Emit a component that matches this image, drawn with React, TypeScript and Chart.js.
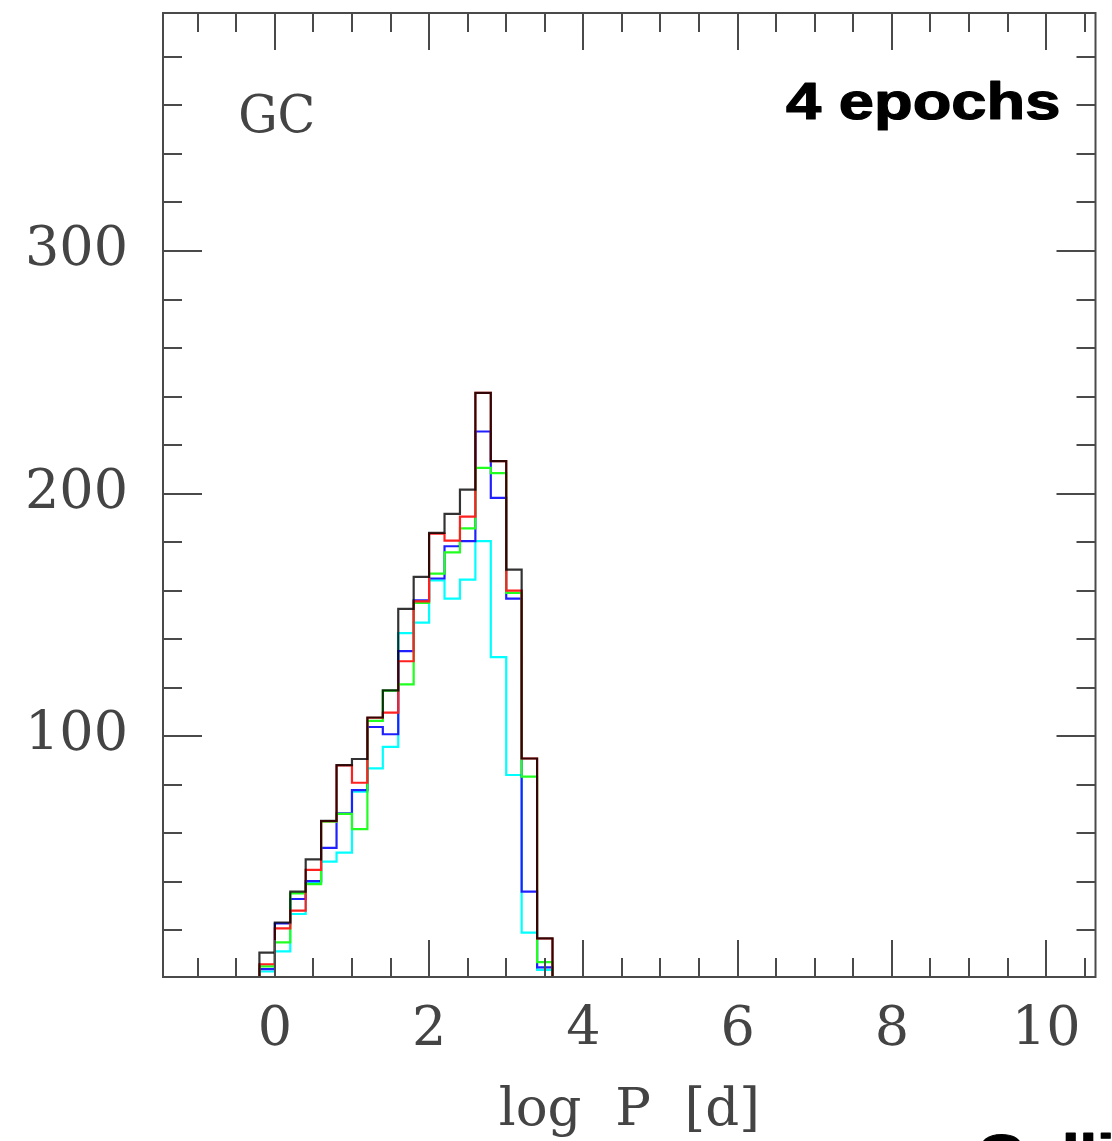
import React, { useEffect, useRef } from 'react';
import { Chart, registerables } from 'chart.js';

Chart.register(...registerables);

// Histogram bin edges in log P [d] (bin width 0.2)
const binEdges = [-0.2, 0, 0.2, 0.4, 0.6, 0.8, 1.0, 1.2, 1.4, 1.6, 1.8, 2.0, 2.2, 2.4, 2.6, 2.8, 3.0, 3.2, 3.4, 3.6];

// Counts per bin for each series
const blackCounts = [10.8, 23.2, 35.9, 49.2, 65.1, 88.1, 90.6, 107.7, 118.9, 152.5, 165.7, 183.8, 191.6, 201.6, 241.5, 213.4, 168.7, 90.8, 16.7];
const redCounts = [6.0, 20.8, 28.1, 44.9, 65.0, 88.0, 80.8, 107.6, 109.7, 130.9, 155.6, 183.5, 180.6, 190.5, 241.5, 213.4, 160.0, 90.8, 16.6];
const greenCounts = [5.1, 15.0, 35.2, 39.0, 64.8, 68.0, 61.7, 106.3, 118.8, 121.4, 154.9, 167.0, 175.8, 185.7, 210.6, 208.4, 159.1, 83.3, 6.9];
const blueCounts = [4.0, 22.8, 32.9, 40.3, 54.0, 68.2, 77.8, 103.8, 100.8, 135.1, 156.0, 165.0, 178.3, 180.4, 225.6, 198.2, 156.7, 35.9, 4.7];
const cyanCounts = [3.0, 11.3, 26.7, 39.5, 48.3, 52.0, 77.1, 86.7, 95.6, 142.5, 146.8, 164.2, 156.7, 164.5, 180.4, 132.6, 84.0, 19.0, 3.7];

// Axis ticks
const xTickLabels = [0, 2, 4, 6, 8, 10];
const xMinorTicks = [-1, -0.5, 0.5, 1, 1.5, 2.5, 3, 3.5, 4.5, 5, 5.5, 6.5, 7, 7.5, 8.5, 9, 9.5, 10.5];
const yTickLabels = [100, 200, 300];
const yMinorTicks = [20, 40, 60, 80, 120, 140, 160, 180, 220, 240, 260, 280, 320, 340, 360, 380];

const xRange = { min: -1.45, max: 10.64 };
const yRange = { min: 0.74, max: 398.1 };

const panelLabel = 'GC';
const epochLabel = '4 epochs';
const bottomLabel = 'Collisions';
const xTitle = 'log  P  [d]';

function toSteps(counts: number[]) {
  const pts = [{ x: binEdges[0], y: 0 }];
  counts.forEach((v, i) => pts.push({ x: binEdges[i], y: v }));
  pts.push({ x: binEdges[binEdges.length - 1], y: 0 });
  return pts;
}

function inkScale(ctx: CanvasRenderingContext2D, text: string, font: string, inkWidth: number) {
  ctx.save();
  ctx.font = font;
  const m = ctx.measureText(text);
  ctx.restore();
  return inkWidth / (m.actualBoundingBoxLeft + m.actualBoundingBoxRight);
}

function drawText(ctx: CanvasRenderingContext2D, text: string, font: string, color: string, inkLeft: number, baseline: number, sx: number, stroke = 0) {
  ctx.save();
  ctx.font = font;
  ctx.fillStyle = color;
  ctx.strokeStyle = color;
  ctx.textAlign = 'left';
  ctx.textBaseline = 'alphabetic';
  const m = ctx.measureText(text);
  ctx.translate(inkLeft, baseline);
  ctx.scale(sx, 1);
  ctx.fillText(text, m.actualBoundingBoxLeft, 0);
  if (stroke > 0) {
    ctx.lineWidth = stroke;
    ctx.lineJoin = 'round';
    ctx.strokeText(text, m.actualBoundingBoxLeft, 0);
  }
  ctx.restore();
}

const framePlugin = {
  id: 'framePlugin',
  afterDatasetsDraw(chart: any) {
    const { ctx, chartArea } = chart;
    const xs = chart.scales.x;
    const ys = chart.scales.y;
    const { left, right, top, bottom } = chartArea;
    ctx.save();
    ctx.strokeStyle = '#4a4a4a';
    ctx.lineWidth = 2;
    ctx.lineCap = 'butt';
    ctx.strokeRect(left, top, right - left, bottom - top);
    ctx.beginPath();
    const xTick = (v: number, len: number) => {
      const p = Math.round(xs.getPixelForValue(v));
      ctx.moveTo(p, bottom);
      ctx.lineTo(p, bottom - len);
      ctx.moveTo(p, top);
      ctx.lineTo(p, top + len);
    };
    const yTick = (v: number, len: number) => {
      const p = Math.round(ys.getPixelForValue(v));
      ctx.moveTo(left, p);
      ctx.lineTo(left + len, p);
      ctx.moveTo(right, p);
      ctx.lineTo(right - len, p);
    };
    xTickLabels.forEach((v) => xTick(v, 37));
    xMinorTicks.forEach((v) => xTick(v, 19));
    yTickLabels.forEach((v) => yTick(v, 39));
    yMinorTicks.forEach((v) => yTick(v, 19));
    ctx.stroke();
    ctx.restore();

    const epochFont = 'bold 52px "Liberation Sans"';
    const sx = inkScale(ctx, epochLabel, epochFont, 272);
    drawText(ctx, epochLabel, epochFont, '#000', 786, 119, sx, 1.2);
    drawText(ctx, bottomLabel, epochFont, '#000', 980, 1171, sx, 1.2);
    const gcFont = '53px "DejaVu Serif"';
    drawText(ctx, panelLabel, gcFont, '#444', 240, 132, inkScale(ctx, panelLabel, gcFont, 73));
  },
};

export default function App() {
  const ref = useRef<HTMLCanvasElement>(null);
  useEffect(() => {
    document.body.style.margin = '0';
    document.body.style.overflow = 'hidden';
    const canvas = ref.current!;
    const mk = (label: string, counts: number[], color: string) => ({
      label,
      data: toSteps(counts),
      borderColor: color,
      borderWidth: 2.2,
      pointRadius: 0,
      fill: false,
      stepped: 'before' as const,
      tension: 0,
    });
    const tickFont = { family: '"DejaVu Serif"', size: 54, lineHeight: 1 };
    const chart = new Chart(canvas, {
      type: 'line',
      data: {
        datasets: [
          mk('black', blackCounts, 'rgba(0,0,0,0.8)'),
          mk('red', redCounts, '#ff2020'),
          mk('green', greenCounts, '#20ff20'),
          mk('blue', blueCounts, '#2020ff'),
          mk('cyan', cyanCounts, '#00ffff'),
        ],
      },
      options: {
        responsive: false,
        animation: false,
        devicePixelRatio: 1,
        layout: { padding: { left: 0, top: 13, right: 16.5, bottom: 0 } },
        plugins: { legend: { display: false }, tooltip: { enabled: false } },
        scales: {
          x: {
            type: 'linear',
            position: 'bottom',
            min: xRange.min,
            max: xRange.max,
            grid: { display: false, drawTicks: false },
            border: { display: false },
            ticks: { font: tickFont, color: '#444', padding: 27, maxRotation: 0 },
            title: { display: true, text: xTitle, font: { family: '"DejaVu Serif"', size: 53, lineHeight: 1 }, color: '#444', padding: { top: 0, bottom: 3 } },
            afterBuildTicks: (s: any) => { s.ticks = xTickLabels.map((v) => ({ value: v })); },
            afterFit: (s: any) => { s.height = 164; s.paddingLeft = 0; s.paddingRight = 0; },
          },
          y: {
            type: 'linear',
            position: 'left',
            min: yRange.min,
            max: yRange.max,
            grid: { display: false, drawTicks: false },
            border: { display: false },
            ticks: { font: tickFont, color: '#444', padding: 35 },
            afterBuildTicks: (s: any) => { s.ticks = yTickLabels.map((v) => ({ value: v })); },
            afterFit: (s: any) => { s.width = 163; s.paddingTop = 0; s.paddingBottom = 0; },
          },
        },
      },
      plugins: [framePlugin],
    });
    return () => chart.destroy();
  }, []);
  return <canvas ref={ref} width={1112} height={1141} style={{ display: 'block', width: 1112, height: 1141 }} />;
}
